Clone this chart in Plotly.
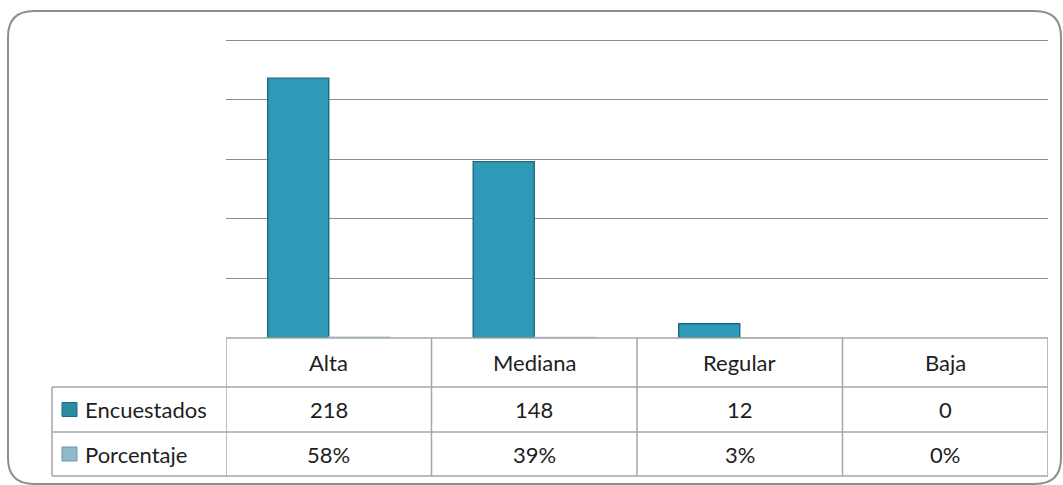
import plotly.graph_objects as go

categories = ["Alta", "Mediana", "Regular", "Baja"]
encuestados = [218, 148, 12, 0]
porcentaje = [0.58, 0.39, 0.03, 0.0]
porcentaje_labels = ["58%", "39%", "3%", "0%"]
series_names = ["Encuestados", "Porcentaje"]

W, H = 1063, 485
L, R, T, B = 226, 15, 37, 147
PW, PH = W - L - R, H - T - B
Y_TOP = 250 * PH / 298.0  # keeps the 250 gridline just inside the plot area

def px(x):
    return (x - L) / PW

def py(y):
    return (H - B - y) / PH

FONT = "Lato"
GRID = "#8c8c8c"
TLINE = "#a6a6a6"
TXT = "#1e1e1e"

fig = go.Figure()
fig.add_trace(go.Bar(x=categories, y=encuestados, name=series_names[0],
                     marker=dict(color="#2f9ab8",
                                 line=dict(color="#1d6a80",
                                           width=[1.4 if v > 0 else 0 for v in encuestados]))))
fig.add_trace(go.Bar(x=categories, y=porcentaje, name=series_names[1],
                     marker=dict(color="#9fc4d6",
                                 line=dict(color="#a9c9d8",
                                           width=[1.5 if v > 0 else 0 for v in porcentaje]))))

shapes = []
rows_px = [H - B, 387, 432, 476]
def hline(y, x0, x1):
    shapes.append(dict(type="line", xref="paper", yref="paper", x0=px(x0), x1=px(x1),
                       y0=py(y), y1=py(y), line=dict(color=TLINE, width=1.5), layer="above"))
hline(rows_px[0], L, W - R)
for y in rows_px[1:]:
    hline(y, 52, W - R)
for b in [-0.5, 0.5, 1.5, 2.5, 3.5]:
    shapes.append(dict(type="line", xref="x", yref="paper", x0=b, x1=b,
                       y0=py(rows_px[0]), y1=py(rows_px[3]), line=dict(color=TLINE, width=1.5)))
shapes.append(dict(type="line", xref="paper", yref="paper", x0=px(52), x1=px(52),
                   y0=py(rows_px[1]), y1=py(rows_px[3]), line=dict(color=TLINE, width=1.5)))

key_colors = [("#2b8aa4", "#1f6b80"), ("#8fb9cc", "#6b98ab")]
for i, (fc, lc) in enumerate(key_colors):
    cy = (rows_px[1 + i] + rows_px[2 + i]) / 2
    shapes.append(dict(type="rect", xref="paper", yref="paper", x0=px(62), x1=px(77),
                       y0=py(cy - 7), y1=py(cy + 7), fillcolor=fc, line=dict(color=lc, width=1)))

x0, y0, x1, y1, r = 8, 11, 1061, 484, 26
def P(x, y):
    return f"{px(x):.5f},{py(y):.5f}"
path = (f"M {P(x0 + r, y0)} L {P(x1 - r, y0)} Q {P(x1, y0)} {P(x1, y0 + r)} "
        f"L {P(x1, y1 - r)} Q {P(x1, y1)} {P(x1 - r, y1)} L {P(x0 + r, y1)} "
        f"Q {P(x0, y1)} {P(x0, y1 - r)} L {P(x0, y0 + r)} Q {P(x0, y0)} {P(x0 + r, y0)} Z")
shapes.append(dict(type="path", xref="paper", yref="paper", path=path,
                   line=dict(color="#8e8e8e", width=2)))

annotations = []
FS = 22
row_centers = [(rows_px[i] + rows_px[i + 1]) / 2 for i in range(3)]
def ann(x, xref, y, text, xanchor="center"):
    annotations.append(dict(x=x, xref=xref, y=py(y), yref="paper", text=text,
                            xanchor=xanchor, yanchor="middle", showarrow=False,
                            font=dict(family=FONT, size=FS, color=TXT)))
for c, v, p in zip(categories, encuestados, porcentaje_labels):
    ann(c, "x", row_centers[0], c)
    ann(c, "x", row_centers[1], str(v))
    ann(c, "x", row_centers[2], p)
for i, n in enumerate(series_names):
    ann(px(83), "paper", row_centers[1 + i], n, xanchor="left")

fig.update_layout(
    width=W, height=H,
    margin=dict(l=L, r=R, t=T, b=B),
    paper_bgcolor="white", plot_bgcolor="white",
    barmode="group", bargap=0.406, bargroupgap=0,
    showlegend=False,
    xaxis=dict(showticklabels=False, showgrid=False, zeroline=False, showline=False,
               range=[-0.5, 3.5]),
    yaxis=dict(range=[0, Y_TOP], dtick=50, showgrid=True, gridcolor=GRID, gridwidth=1,
               showticklabels=False, zeroline=False, showline=False),
    shapes=shapes, annotations=annotations,
)

fig.write_html("out.html")
